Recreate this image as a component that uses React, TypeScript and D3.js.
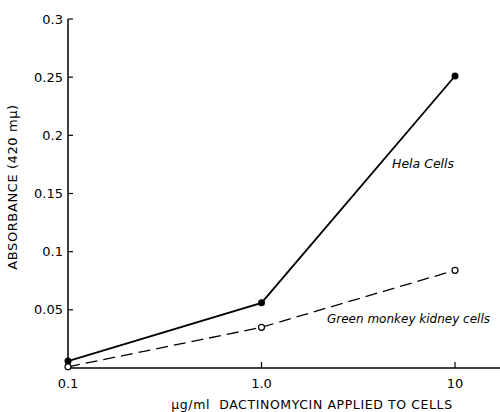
import React, { useEffect, useRef } from 'react';
import * as d3 from 'd3';

const doses = [0.1, 1.0, 10];
const helaValues = [0.006, 0.056, 0.251];
const monkeyValues = [0.001, 0.035, 0.084];
const yTicks = [0.05, 0.1, 0.15, 0.2, 0.25, 0.3];
const yTickLabels = ['0.05', '0.1', '0.15', '0.2', '0.25', '0.3'];
const xTicks = [0.1, 1.0, 10];
const xTickLabels = ['0.1', '1.0', '10'];

const App = () => {
  const ref = useRef<SVGSVGElement>(null);

  useEffect(() => {
    const width = 500;
    const height = 412;
    const font = '"DejaVu Sans", "Liberation Sans", sans-serif';

    const svg = d3.select(ref.current);
    svg.selectAll('*').remove();
    svg.attr('width', width).attr('height', height);

    const x = d3.scaleLog().domain([0.1, 10]).range([68, 455]);
    const y = d3.scaleLinear().domain([0, 0.3]).range([368, 19]);

    const g = svg.append('g').attr('fill', 'none').attr('stroke', '#000');

    // axes
    g.append('line')
      .attr('x1', x(0.1)).attr('x2', 500)
      .attr('y1', y(0)).attr('y2', y(0))
      .attr('stroke-width', 1.5);
    g.append('line')
      .attr('x1', x(0.1)).attr('x2', x(0.1))
      .attr('y1', y(0)).attr('y2', y(0.3))
      .attr('stroke-width', 1.5);

    yTicks.forEach((t, i) => {
      g.append('line')
        .attr('x1', x(0.1)).attr('x2', x(0.1) + 5)
        .attr('y1', y(t)).attr('y2', y(t))
        .attr('stroke-width', 1.2);
      svg.append('text')
        .attr('x', x(0.1) - 5)
        .attr('y', y(t))
        .attr('dy', '0.35em')
        .attr('text-anchor', 'end')
        .attr('font-family', font)
        .attr('font-size', 13)
        .text(yTickLabels[i]);
    });

    xTicks.forEach((t, i) => {
      if (i > 0) {
        g.append('line')
          .attr('x1', x(t)).attr('x2', x(t))
          .attr('y1', y(0)).attr('y2', y(0) - 6)
          .attr('stroke-width', 1.2);
      }
      svg.append('text')
        .attr('x', x(t))
        .attr('y', 388)
        .attr('text-anchor', 'middle')
        .attr('font-family', font)
        .attr('font-size', 13)
        .text(xTickLabels[i]);
    });

    // axis titles
    svg.append('text')
      .attr('transform', 'translate(17,187) rotate(-90)')
      .attr('text-anchor', 'middle')
      .attr('font-family', font)
      .attr('font-size', 13)
      .attr('letter-spacing', 0.6)
      .text('ABSORBANCE (420 mμ)');

    svg.append('text')
      .attr('x', 312)
      .attr('y', 409)
      .attr('text-anchor', 'middle')
      .attr('font-family', font)
      .attr('font-size', 12.5)
      .attr('letter-spacing', 0.6)
      .attr('xml:space', 'preserve')
      .text('μg/ml  DACTINOMYCIN APPLIED TO CELLS');

    const line = d3.line<number>()
      .x((_, i) => x(doses[i]))
      .y((d) => y(d));

    g.append('path')
      .datum(monkeyValues)
      .attr('d', line)
      .attr('stroke-width', 1.3)
      .attr('stroke-dasharray', '12,6');

    g.append('path')
      .datum(helaValues)
      .attr('d', line)
      .attr('stroke-width', 1.8);

    svg.selectAll('circle.hela')
      .data(helaValues)
      .enter()
      .append('circle')
      .attr('cx', (_, i) => x(doses[i]))
      .attr('cy', (d) => y(d))
      .attr('r', 3.5)
      .attr('fill', '#000');

    svg.selectAll('circle.monkey')
      .data(monkeyValues)
      .enter()
      .append('circle')
      .attr('cx', (_, i) => x(doses[i]))
      .attr('cy', (d) => y(d))
      .attr('r', 3)
      .attr('fill', '#fff')
      .attr('stroke', '#000')
      .attr('stroke-width', 1.2);

    // series labels
    svg.append('text')
      .attr('x', 392)
      .attr('y', 168)
      .attr('font-family', font)
      .attr('font-size', 12.5)
      .attr('font-style', 'italic')
      .text('Hela Cells');

    svg.append('text')
      .attr('x', 327)
      .attr('y', 323)
      .attr('font-family', font)
      .attr('font-size', 12)
      .attr('font-style', 'italic')
      .text('Green monkey kidney cells');
  }, []);

  return (
    <svg
      ref={ref}
      style={{ position: 'absolute', top: 0, left: 0, background: '#fff' }}
    />
  );
};

export default App;
